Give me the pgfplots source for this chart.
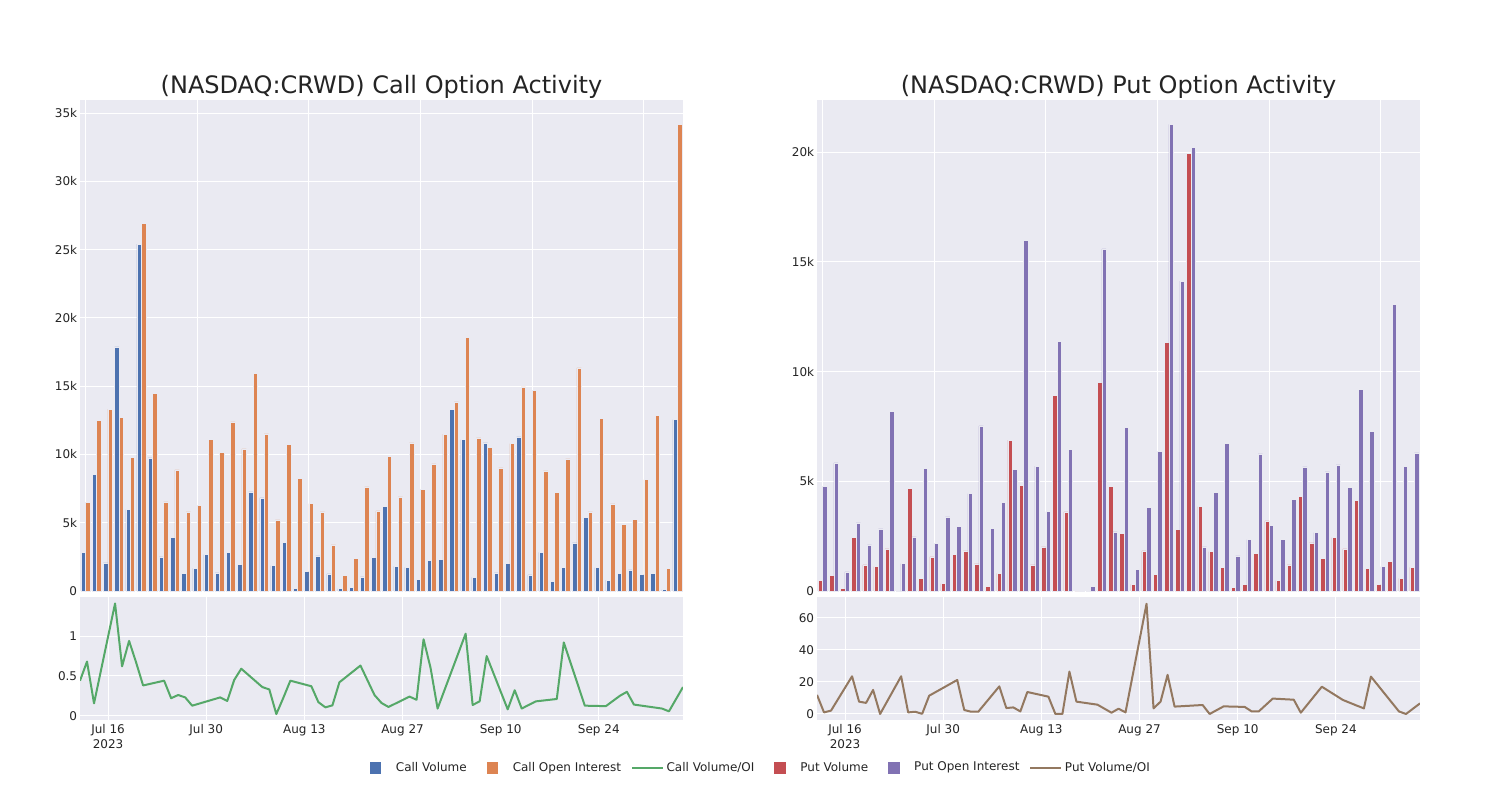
\documentclass[border=0pt]{standalone}
\usepackage{pgfplots}
\pgfplotsset{compat=1.18}
\usepackage{pgfplotstable}
\usepackage{fontspec}
\setmainfont{DejaVu Sans}
\definecolor{bg}{RGB}{234,234,242}
\definecolor{txt}{RGB}{36,36,36}
\definecolor{cblue}{RGB}{76,114,176}
\definecolor{corange}{RGB}{221,132,82}
\definecolor{cgreen}{RGB}{85,168,104}
\definecolor{cred}{RGB}{196,78,82}
\definecolor{cpurple}{RGB}{129,114,179}
\definecolor{cbrown}{RGB}{147,120,96}

\pgfplotstableread{
i v oi
0 2814 6478
1 8530 12512
2 2053 13318
3 17885 12732
4 5965 9776
5 25413 26928
6 9749 14490
7 2492 6524
8 3914 8869
9 1275 5791
10 1664 6260
11 2668 11120
12 1319 10145
13 2837 12388
14 1957 10409
15 7257 15935
16 6817 11508
17 1862 5204
18 3570 10753
19 176 8261
20 1444 6406
21 2566 5791
22 1246 3372
23 176 1151
24 249 2375
25 1026 7623
26 2470 5864
27 6187 9852
28 1811 6890
29 1737 10849
30 858 7455
31 2250 9309
32 2324 11486
33 13318 13854
34 11097 18596
35 1004 11215
36 10849 10511
37 1319 9016
38 2008 10804
39 11288 14953
40 1173 14711
41 2837 8796
42 689 7213
43 1715 9676
44 3518 16346
45 5402 5791
46 1715 12637
47 806 6377
48 1275 4867
49 1539 5256
50 1224 8166
51 1275 12857
52 100 1642
53 12564 34187
}\calldata

\pgfplotstableread{
i v oi
0 488 4776
1 702 5839
2 123 867
3 2436 3102
4 1186 2099
5 1113 2828
6 1916 8198
7 20 1250
8 4671 2463
9 579 5584
10 1551 2162
11 336 3376
12 1674 2938
13 1825 4443
14 1232 7527
15 200 2847
16 807 4033
17 6875 5552
18 4808 15998
19 1186 5688
20 2007 3622
21 8928 11378
22 3604 6464
23 0 20
24 20 228
25 9507 15602
26 4776 2692
27 2619 7454
28 306 990
29 1825 3818
30 762 6373
31 11346 21277
32 2801 14128
33 19954 20228
34 3850 2007
35 1797 4503
36 1067 6738
37 169 1597
38 306 2345
39 1706 6250
40 3193 2984
41 474 2345
42 1186 4183
43 4320 5657
44 2190 2664
45 1478 5429
46 2436 5748
47 1916 4731
48 4124 9201
49 1022 7272
50 319 1113
51 1341 13065
52 579 5688
53 1081 6296
}\putdata

\pgfplotstableread{
d r
0 0.44
1 0.68
2 0.155
5 1.41
6 0.62
7 0.94
8 0.67
9 0.38
12 0.44
13 0.22
14 0.26
15 0.23
16 0.126
20 0.23
21 0.185
22 0.45
23 0.59
26 0.36
27 0.33
28 0.02
29 0.225
30 0.44
33 0.37
34 0.17
35 0.105
36 0.13
37 0.42
40 0.63
42 0.26
43 0.16
44 0.11
47 0.24
48 0.2
49 0.96
50 0.6
51 0.09
55 1.03
56 0.135
57 0.18
58 0.75
61 0.08
62 0.32
63 0.09
65 0.18
68 0.21
69 0.92
72 0.126
75 0.12
77 0.25
78 0.3
79 0.14
83 0.09
84 0.055
86 0.36
}\callratio

\pgfplotstableread{
d r
0 11.9
1 1.0
2 2.1
5 23.5
6 7.7
7 6.9
8 15
9 0
12 23.5
13 1.0
14 1.4
15 0.1
16 11.4
20 21.2
21 2.5
22 1.4
23 1.4
26 17.2
27 3.7
28 4.1
29 1.6
30 13.7
33 10.8
34 0
35 0
36 26.4
37 7.7
40 5.8
42 0.8
43 3.3
44 1.0
47 68.7
48 3.5
49 7.7
50 24.4
51 4.6
55 5.6
56 0
57 2.4
58 4.75
61 4.4
62 1.6
63 1.6
65 9.6
68 8.9
69 0.8
72 17
75 8.75
77 5.2
78 3.5
79 23.3
83 1.6
84 0
86 6.6
}\putratio

\pgfplotsset{
  base/.style={
    scale only axis,
    axis background/.style={fill=bg},
    axis line style={draw=none},
    tick style={draw=none},
    major tick length=0pt,
    grid style={white, line width=0.5pt},
    xmajorgrids, ymajorgrids,
    tick label style={font=\fontsize{6}{7.5}\selectfont, text=txt, inner sep=0pt},
    yticklabel shift=1.25pt,
    xticklabel shift=2pt,
    enlargelimits=false,
    scaled ticks=false,
    every axis title shift=0pt,
    title style={font=\fontsize{12}{14}\selectfont, text=txt, at={(0.5,1)}, anchor=base, yshift=3.5pt, inner sep=0pt},
  },
  topax/.style={base, width=301.5pt, height=245.5pt, anchor=south west,
    xmin=-0.5, xmax=53.5, xtick={0,10,20,30,40,50}, xticklabels={,,,,,},
    ybar, bar width=0.4, ymin=0},
  botax/.style={base, width=301.5pt, height=61.5pt, anchor=south west,
    xmin=0, xmax=86, xtick={4,18,32,46,60,74},
    xticklabels={{Jul 16\\2023},Jul 30,Aug 13,Aug 27,Sep 10,Sep 24},
    xticklabel style={align=center}},
}

\begin{document}
\begin{tikzpicture}
\path[use as bounding box] (0pt,0pt) rectangle (750pt,400pt);

% Call top
\begin{axis}[topax, at={(40pt,104.5pt)}, ymax=35970,
  ytick={0,5000,10000,15000,20000,25000,30000,35000},
  yticklabels={0,5k,10k,15k,20k,25k,30k,35k},
  title={(NASDAQ:CRWD) Call Option Activity}]
\addplot[fill=cblue, draw=bg, line width=0.25pt, bar shift=-0.2] table[x=i, y=v] {\calldata};
\addplot[fill=corange, draw=bg, line width=0.25pt, bar shift=0.2] table[x=i, y=oi] {\calldata};
\end{axis}

% Call bottom
\begin{axis}[botax, at={(40pt,40pt)}, ymin=-0.054, ymax=1.491,
  ytick={0,0.5,1}, yticklabels={0,0.5,1}]
\addplot[cgreen, line width=1pt, line join=round, no marks] table[x=d, y=r] {\callratio};
\end{axis}

% Put top
\begin{axis}[topax, at={(408.5pt,104.5pt)}, ymax=22385,
  ytick={0,5000,10000,15000,20000},
  yticklabels={0,5k,10k,15k,20k},
  title={(NASDAQ:CRWD) Put Option Activity}]
\addplot[fill=cred, draw=bg, line width=0.25pt, bar shift=-0.2] table[x=i, y=v] {\putdata};
\addplot[fill=cpurple, draw=bg, line width=0.25pt, bar shift=0.2] table[x=i, y=oi] {\putdata};
\end{axis}

% Put bottom
\begin{axis}[botax, at={(408.5pt,40pt)}, ymin=-3.75, ymax=72.9,
  ytick={0,20,40,60}, yticklabels={0,20,40,60}]
\addplot[cbrown, line width=1pt, line join=round, no marks] table[x=d, y=r] {\putratio};
\end{axis}

% Legend
\begin{axis}[at={(0pt,0pt)}, anchor=south west, width=750pt, height=400pt, scale only axis,
  hide axis, xmin=0, xmax=1, ymin=0, ymax=1,
  legend columns=6,
  legend cell align=left,
  legend style={at={(0.233,0.04)}, anchor=west, draw=none, fill=none, inner sep=0pt,
    column sep=0pt, font=\fontsize{6}{7}\selectfont, text=txt, nodes={inner sep=0pt}}]
\addlegendimage{legend image code/.code={\path[draw=none,fill=none] (0pt,-3pt) rectangle (23pt,3pt); \fill[cblue,draw=none] (10pt,-2.875pt) rectangle (15.75pt,2.875pt);}}
\addlegendentry{Call Volume}
\addlegendimage{legend image code/.code={\path[draw=none,fill=none] (0pt,-3pt) rectangle (23pt,3pt); \fill[corange,draw=none] (10pt,-2.875pt) rectangle (15.75pt,2.875pt);}}
\addlegendentry{Call Open Interest}
\addlegendimage{legend image code/.code={\path[draw=none,fill=none] (0pt,-3pt) rectangle (22.75pt,3pt); \draw[cgreen, line width=1pt] (5.5pt,0pt) -- (21pt,0pt);}}
\addlegendentry{Call Volume/OI}
\addlegendimage{legend image code/.code={\path[draw=none,fill=none] (0pt,-3pt) rectangle (23pt,3pt); \fill[cred,draw=none] (10pt,-2.875pt) rectangle (15.75pt,2.875pt);}}
\addlegendentry{Put Volume}
\addlegendimage{legend image code/.code={\path[draw=none,fill=none] (0pt,-3pt) rectangle (23pt,3pt); \fill[cpurple,draw=none] (10pt,-2.875pt) rectangle (15.75pt,2.875pt);}}
\addlegendentry{Put Open Interest}
\addlegendimage{legend image code/.code={\path[draw=none,fill=none] (0pt,-3pt) rectangle (22.75pt,3pt); \draw[cbrown, line width=1pt] (5.5pt,0pt) -- (21pt,0pt);}}
\addlegendentry{Put Volume/OI}
\end{axis}
\end{tikzpicture}
\end{document}
